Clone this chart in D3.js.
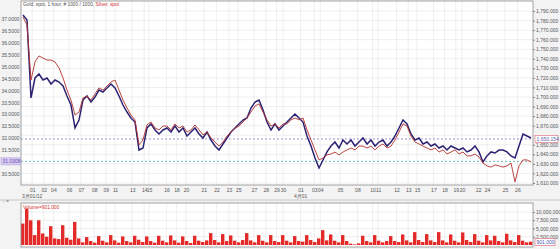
<!DOCTYPE html>
<html>
<head>
<meta charset="utf-8">
<script src="https://cdn.jsdelivr.net/npm/d3@7"></script>
<style>
	body { margin: 0; background: #f3f3f3; }
	svg { display: block; font-family: "Liberation Sans", Arial, sans-serif; }
	.tick text { fill: #555; font-size: 5px; }
	.tick line { stroke: #888; }
	.domain { display: none; }
</style>
</head>
<body>
<div id="wrap"></div>
<script>
// gold, spot (right axis), one value every ~8 hours
const gold = [1785.8,1780.6,1699.0,1719.9,1724.1,1717.8,1719.9,1713.6,1717.8,1715.7,
	1711.5,1701.1,1691.6,1667.6,1675.9,1696.9,1701.1,1694.8,1700.0,1707.3,
	1705.2,1709.4,1713.6,1709.4,1701.1,1691.6,1684.3,1678.0,1673.8,1644.5,
	1646.6,1667.6,1671.8,1665.5,1661.3,1665.5,1667.6,1663.4,1669.7,1663.4,
	1667.6,1659.2,1663.4,1667.6,1661.3,1657.1,1663.4,1655.0,1648.7,1644.5,
	1650.8,1657.1,1663.4,1667.6,1671.8,1675.9,1678.0,1688.5,1694.8,1696.9,
	1686.4,1673.8,1665.5,1671.8,1665.5,1669.7,1673.8,1678.0,1682.2,1678.0,
	1673.8,1659.2,1648.7,1636.2,1625.7,1634.1,1642.5,1648.7,1652.9,1646.6,
	1655.0,1650.8,1655.0,1648.7,1652.9,1657.1,1650.8,1655.0,1648.7,1652.9,
	1655.0,1648.7,1652.9,1659.2,1667.6,1675.9,1671.8,1661.3,1655.0,1657.1,
	1650.8,1652.9,1648.7,1650.8,1646.6,1648.7,1644.5,1648.7,1646.6,1644.5,
	1646.6,1642.5,1644.5,1648.7,1642.5,1632.0,1638.3,1642.5,1641.4,1644.5,
	1644.5,1642.5,1638.3,1636.2,1648.7,1661.3,1659.2,1657.1];

// silver, spot (left axis)
const silver = [37.08,36.75,34.44,35.20,35.45,35.36,35.28,35.28,35.20,34.95,
	34.53,34.02,33.60,32.97,33.10,33.69,33.77,33.60,33.86,34.11,
	34.02,34.19,34.36,34.44,34.02,33.60,33.27,32.97,32.77,31.72,
	31.93,32.56,32.68,32.43,32.35,32.51,32.51,32.35,32.60,32.43,
	32.51,32.26,32.35,32.56,32.35,32.14,32.26,32.01,31.84,31.67,
	31.84,32.09,32.26,32.43,32.51,32.68,32.85,33.10,33.35,33.44,
	33.10,32.77,32.51,32.60,32.43,32.60,32.60,32.77,32.85,32.77,
	32.85,32.35,31.93,31.51,31.09,31.17,31.30,31.34,31.42,31.30,
	31.42,31.51,31.59,31.51,31.67,31.67,31.59,31.67,31.51,31.67,
	31.76,31.59,31.67,31.93,32.26,32.60,32.51,32.09,31.84,31.76,
	31.67,31.59,31.51,31.59,31.42,31.51,31.34,31.42,31.51,31.34,
	31.42,31.26,31.26,31.34,31.21,30.96,30.84,30.79,30.88,30.84,
	30.79,30.84,30.96,30.17,30.84,31.09,31.09,31.00];

// volume, millions
const volume = [6.5,11.0,7.5,3.0,7.5,3.5,2.5,5.7,2.0,1.8,
	6.0,2.2,1.6,7.0,2.0,0.8,2.4,1.2,0.7,2.7,
	1.3,0.8,3.0,1.4,0.7,2.6,1.2,0.8,2.8,1.6,
	0.9,2.6,1.2,0.7,2.8,1.3,0.8,2.9,1.4,0.7,
	2.6,1.2,0.6,2.8,1.3,0.9,1.4,3.6,1.5,0.8,
	3.3,1.2,2.9,1.3,0.8,1.5,3.6,1.4,0.8,3.0,
	1.3,0.8,3.0,1.2,0.9,3.0,1.3,0.8,2.7,1.2,
	1.0,3.0,1.5,0.9,2.0,4.5,1.4,3.2,1.3,0.8,
	3.0,1.2,0.4,0.2,0.5,2.8,1.2,0.8,3.0,1.3,
	0.8,1.2,2.7,1.2,0.9,3.2,1.4,0.8,3.9,1.5,
	0.9,3.3,1.4,0.9,3.9,1.4,0.8,3.2,1.3,0.8,
	3.8,1.5,0.9,3.3,1.3,0.8,3.0,1.4,2.8,1.2,
	0.8,3.4,1.4,0.9,3.0,1.3,0.8,1.0];

// date tick labels and where they sit (data index)
const dateLabels = ["01","02","04","06","07","08","09","11","13","14","15","16","18","20","21","22","23","25","27","28",
	"29","30","01","03","04","05","08","10","11","12","13","15","17","18","19","20","22","24","25","26"];
const dateIdx = [2.3,5.2,7.6,11.5,14.5,17.8,20.7,23,27.3,30.3,31.5,35.9,38.4,40.75,45.2,48.4,51.5,53.8,57.75,60.7,
	63.4,65,69.4,72.8,74.3,79.25,83.6,87.4,88.8,93.4,96.3,98.5,102.6,105.4,108.2,109.75,113.8,116,120.5,123.6];
const monthLabels = ["3月01/12","4月01"];
const monthIdx = [2.3,69.4];

const silverTicks = [37,36.5,36,35.5,35,34.5,34,33.5,33,32.5,32,31.5,31,30.5];
const goldTicks = d3.range(1610, 1791, 10);
const volTicks = [2500000,5000000,7500000,10000000];

// last-value markers
const goldLast = "1,650.154", goldMarkLevel = 1656.1;
const silverLast = 31.0308;
const volLast = 901000;

let W = 560, H = 249;
let svg = d3.select("#wrap").append("svg").attr("width", W).attr("height", H);

// panel areas
let main = {left: 21, right: 533, top: 1, bottom: 185};
let vol = {left: 21, right: 533, top: 203, bottom: 247};

let x = d3.scaleLinear().domain([0, gold.length - 1]).range([23, 531]);
let yR = d3.scaleLinear().domain([1610, 1790]).range([183, 11]);
let yL = d3.scaleLinear().domain([30.5, 37]).range([174, 19]);
let yV = d3.scaleLinear().domain([0, 10000000]).range([245, 212]);

// plot backgrounds
svg.append("rect").attr("x", main.left).attr("y", main.top)
	.attr("width", main.right - main.left).attr("height", main.bottom - main.top)
	.attr("fill", "#fff");
svg.append("rect").attr("x", vol.left).attr("y", vol.top)
	.attr("width", vol.right - vol.left).attr("height", vol.bottom - vol.top)
	.attr("fill", "#fff");

// grid
let grid = svg.append("g").attr("stroke", "#e4e4e4").attr("stroke-width", 0.6);
grid.selectAll(".hg").data(goldTicks).enter().append("line")
	.attr("x1", main.left).attr("x2", main.right)
	.attr("y1", d => yR(d)).attr("y2", d => yR(d));
grid.selectAll(".vg").data(dateIdx).enter().append("line")
	.attr("x1", d => x(d)).attr("x2", d => x(d))
	.attr("y1", main.top).attr("y2", main.bottom);
grid.selectAll(".vg2").data(dateIdx).enter().append("line")
	.attr("x1", d => x(d)).attr("x2", d => x(d))
	.attr("y1", vol.top).attr("y2", vol.bottom);
grid.selectAll(".hv").data(volTicks).enter().append("line")
	.attr("x1", vol.left).attr("x2", vol.right)
	.attr("y1", d => yV(d)).attr("y2", d => yV(d));

// dashed last-value lines
svg.append("line").attr("x1", main.left).attr("x2", main.right)
	.attr("y1", yR(goldMarkLevel)).attr("y2", yR(goldMarkLevel))
	.attr("stroke", "#8878c8").attr("stroke-width", 0.8).attr("stroke-dasharray", "2,2");
svg.append("line").attr("x1", main.left).attr("x2", main.right)
	.attr("y1", yL(silverLast)).attr("y2", yL(silverLast))
	.attr("stroke", "#4aa8a8").attr("stroke-width", 0.8).attr("stroke-dasharray", "2,2");

// price lines
svg.append("path").datum(gold)
	.attr("fill", "none").attr("stroke", "#2b2272").attr("stroke-width", 1.5)
	.attr("d", d3.line().x((d, i) => x(i)).y(d => yR(d)));
svg.append("path").datum(silver)
	.attr("fill", "none").attr("stroke", "#b3302e").attr("stroke-width", 0.9)
	.attr("d", d3.line().x((d, i) => x(i)).y(d => yL(d)));

// volume bars
let bw = x(1) - x(0);
svg.selectAll(".vbar").data(volume).enter().append("rect")
	.attr("x", (d, i) => x(i) - bw / 2)
	.attr("width", bw * 0.85)
	.attr("y", d => yV(d * 1e6))
	.attr("height", d => yV(0) - yV(d * 1e6))
	.attr("fill", "#e42a28");

// borders
svg.append("rect").attr("x", main.left).attr("y", main.top)
	.attr("width", main.right - main.left).attr("height", main.bottom - main.top)
	.attr("fill", "none").attr("stroke", "#8c8c8c").attr("stroke-width", 0.8);
svg.append("rect").attr("x", vol.left).attr("y", vol.top)
	.attr("width", vol.right - vol.left).attr("height", vol.bottom - vol.top)
	.attr("fill", "none").attr("stroke", "#8c8c8c").attr("stroke-width", 0.8);
svg.append("line").attr("x1", 0).attr("x2", W).attr("y1", 200).attr("y2", 200)
	.attr("stroke", "#c8c8c8");

// axes
svg.append("g").attr("transform", "translate(" + main.left + ",0)")
	.call(d3.axisLeft(yL).tickValues(silverTicks).tickSize(0).tickPadding(1.5).tickFormat(d3.format(".4f")));
let markY = yR(goldMarkLevel);
svg.append("g").attr("transform", "translate(" + main.right + ",0)")
	.call(d3.axisRight(yR).tickValues(goldTicks.filter(d => Math.abs(yR(d) - markY) > 5))
		.tickSize(2).tickPadding(1).tickFormat(d3.format(",.3f")));
svg.append("g").attr("transform", "translate(0," + main.bottom + ")")
	.call(d3.axisBottom(x).tickValues(dateIdx).tickSize(0).tickPadding(3)
		.tickFormat((d, i) => dateLabels[i]));
svg.append("g").attr("transform", "translate(" + vol.right + ",0)")
	.call(d3.axisRight(yV).tickValues(volTicks).tickSize(2).tickPadding(1).tickFormat(d3.format(",")));

svg.selectAll(".mlabel").data(monthLabels).enter().append("text")
	.attr("x", (d, i) => x(monthIdx[i])).attr("y", 198)
	.attr("text-anchor", "middle").attr("font-size", 5).attr("fill", "#555")
	.text(d => d);

// value boxes
function box(xl, yc, w, txt, fill, stroke, color) {
	svg.append("rect").attr("x", xl).attr("y", yc - 3.5).attr("width", w).attr("height", 7)
		.attr("fill", fill).attr("stroke", stroke).attr("stroke-width", 0.7);
	svg.append("text").attr("x", xl + 1.5).attr("y", yc + 1.8)
		.attr("font-size", 5).attr("fill", color).text(txt);
}
box(1, yL(silverLast), 19.5, d3.format(".4f")(silverLast), "#d8cdf2", "#b8a8e0", "#6a4fb0");
box(535, markY, 23, goldLast, "#fff", "#e07a8a", "#5868a8");
box(535, yV(volLast), 20, d3.format(",")(volLast), "#fff", "#e07a8a", "#4858b0");

// titles
let title = svg.append("text").attr("x", 23).attr("y", 5.5).attr("font-size", 4.8).attr("fill", "#555");
title.append("tspan").text("Gold, spot, 1 hour, # 1000 / 1000, ");
title.append("tspan").attr("fill", "#d03030").text("Silver, spot");
svg.append("text").attr("x", 23).attr("y", 208.5).attr("font-size", 4.8).attr("fill", "#d03030")
	.text("Volume=" + d3.format(",")(volLast));
svg.append("text").attr("x", 3).attr("y", 202.5).attr("font-size", 5).attr("fill", "#777").text("- =");
</script>
</body>
</html>
